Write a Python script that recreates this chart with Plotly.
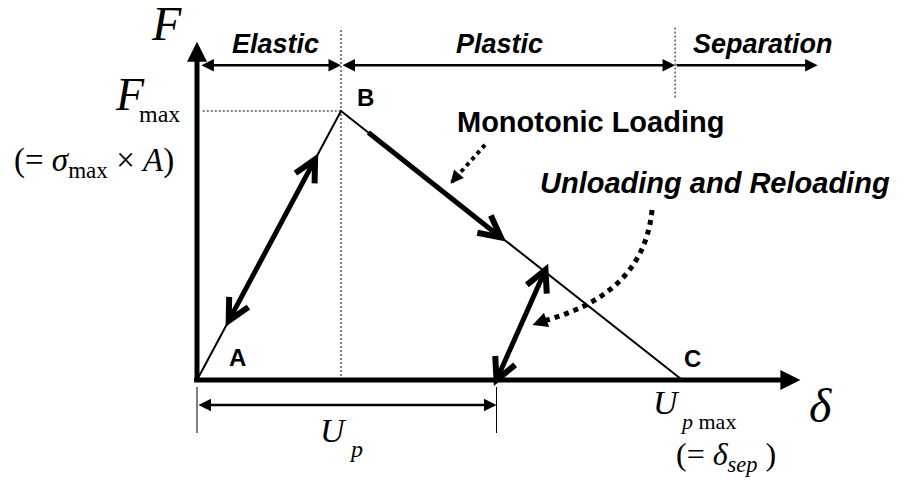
import numpy as np
import plotly.graph_objects as go

# cohesive law sketch: delta in units of the elastic limit, F in units of F_max
node_labels = ["A", "B", "C"]
node_delta = [0.0, 1.0, 3.37]
node_force = [0.0, 1.0, 0.0]

zone_names = ["Elastic", "Plastic", "Separation"]
zone_edges = [0.02, 1.0, 3.32, 4.31]
zone_level = 1.17
zone_line_top = 1.31
sep_line_bottom = 1.05

U_p = 2.08
U_p_level = -0.093
U_p_tick = [-0.026, -0.197]

axis_tip_delta = 4.19
axis_tip_force = 1.257

elastic_arrow_delta = [0.22, 0.82]
elastic_arrow_force = [0.22, 0.82]
mono_arrow_delta = [1.19, 2.11]
mono_arrow_force = [0.92, 0.53]
reload_arrow_delta = [2.08, 2.42]
reload_arrow_force = [0.0, 0.41]

mono_pointer_delta = [2.0, 1.77]
mono_pointer_force = [0.874, 0.736]
reload_pointer_delta = [3.16, 3.11, 2.73, 2.40, 2.33]
reload_pointer_force = [0.632, 0.364, 0.268, 0.218, 0.204]

# figure frame (pixels); the page adds an 8px body margin
PAGE = 8
W, H = 905 - 2 * PAGE, 491 - 2 * PAGE
ORIGIN = (197 - PAGE, 380 - PAGE)
PX_DELTA, PX_FORCE = 144, 269

SANS = "Liberation Sans"
SERIF = "Liberation Serif"

fig = go.Figure()

# thin A-B-C law
fig.add_trace(go.Scatter(x=node_delta, y=node_force, mode="lines",
                         line=dict(color="black", width=2), hoverinfo="skip"))


def arrow(x0, y0, x1, y1, width, head, size, both=False):
    fig.add_annotation(x=x1, y=y1, ax=x0, ay=y0, xref="x", yref="y", axref="x", ayref="y",
                       text="", showarrow=True, arrowcolor="black", arrowwidth=width,
                       arrowhead=head, arrowsize=size,
                       arrowside="end+start" if both else "end",
                       startarrowhead=head, startarrowsize=size, standoff=0, startstandoff=0)


def vline(x, y0, y1, dash="2px,2px", width=1):
    fig.add_shape(type="line", x0=x, x1=x, y0=y0, y1=y1, xref="x", yref="y",
                  line=dict(color="black", width=width, dash=dash))


def chevron(tip_d, tip_f, tail_d, tail_f, length=24, half=27, width=6):
    # open V head drawn in screen pixels, then mapped back to data units
    u = np.array([(tail_d - tip_d) * PX_DELTA, -(tail_f - tip_f) * PX_FORCE])
    u = u / np.linalg.norm(u)
    pts = []
    for s in (1, -1):
        a = np.radians(half * s)
        r = np.array([u[0] * np.cos(a) - u[1] * np.sin(a), u[0] * np.sin(a) + u[1] * np.cos(a)])
        pts.append((tip_d + length * r[0] / PX_DELTA, tip_f - length * r[1] / PX_FORCE))
    path = f"M {pts[0][0]},{pts[0][1]} L {tip_d},{tip_f} L {pts[1][0]},{pts[1][1]}"
    fig.add_shape(type="path", path=path, xref="x", yref="y",
                  line=dict(color="black", width=width))


def thick_arrow(ds, fs, both=False):
    fig.add_shape(type="line", x0=ds[0], y0=fs[0], x1=ds[1], y1=fs[1], xref="x", yref="y",
                  line=dict(color="black", width=5))
    chevron(ds[1], fs[1], ds[0], fs[0])
    if both:
        chevron(ds[0], fs[0], ds[1], fs[1])


# main axes
arrow(-0.03, 0, axis_tip_delta, 0, 5, 2, 0.8)
arrow(0, -0.012, 0, axis_tip_force, 5, 2, 0.8)

# dotted guides
vline(node_delta[1], 0, zone_line_top)
vline(zone_edges[2], sep_line_bottom, zone_line_top)
fig.add_shape(type="line", x0=0.04, x1=node_delta[1], y0=node_force[1], y1=node_force[1],
              xref="x", yref="y", line=dict(color="black", width=1, dash="2px,2px"))

# zone dimension arrows
arrow(zone_edges[0], zone_level, zone_edges[1], zone_level, 2.5, 2, 1, both=True)
arrow(zone_edges[1], zone_level, zone_edges[2], zone_level, 2.5, 2, 1, both=True)
arrow(zone_edges[2], zone_level, zone_edges[3], zone_level, 2.5, 2, 1)

# U_p dimension
vline(0, U_p_tick[0], U_p_tick[1], dash="solid")
vline(U_p, U_p_tick[0], U_p_tick[1], dash="solid")
arrow(0, U_p_level, U_p, U_p_level, 2.5, 2, 1, both=True)

# thick loading arrows
thick_arrow(elastic_arrow_delta, elastic_arrow_force, both=True)
thick_arrow(mono_arrow_delta, mono_arrow_force)
thick_arrow(reload_arrow_delta, reload_arrow_force, both=True)

# dotted pointers
fig.add_shape(type="line", x0=mono_pointer_delta[0], y0=mono_pointer_force[0],
              x1=mono_pointer_delta[1], y1=mono_pointer_force[1], xref="x", yref="y",
              line=dict(color="black", width=4, dash="dot"))
arrow(mono_pointer_delta[1] + 0.04, mono_pointer_force[1] + 0.025,
      mono_pointer_delta[1] - 0.01, mono_pointer_force[1] - 0.006, 2, 2, 1.3)

d, f = reload_pointer_delta, reload_pointer_force
path = f"M {d[0]},{f[0]} C {d[1]},{f[1]} {d[2]},{f[2]} {d[3]},{f[3]}"
fig.add_shape(type="path", path=path, xref="x", yref="y",
              line=dict(color="black", width=5, dash="dot"))
arrow(d[3], f[3], d[4], f[4], 2, 2, 1.5)


def label(text, px, py, size, family=SANS):
    fig.add_annotation(x=(px - PAGE) / W, y=1 - (py - PAGE) / H, xref="paper", yref="paper",
                       text=text, showarrow=False, xanchor="center", yanchor="middle",
                       font=dict(family=family, size=size, color="black"))


for name, px in zip(zone_names, [275, 500, 763]):
    label(f"<b><i>{name}</i></b>", px, 44, 27)

label_pos = {"A": (237, 357), "B": (365, 97), "C": (692, 358)}
for name in node_labels:
    label(f"<b>{name}</b>", *label_pos[name], 24)

label("<b>Monotonic Loading</b>", 590, 122, 29)
label("<b><i>Unloading and Reloading</i></b>", 715, 183, 29)

label("<i>F</i>", 166, 24, 48, SERIF)
label("<i>F</i>", 130, 94, 46, SERIF)
label("max", 159, 114, 24, SERIF)
label("(= <i>σ</i><sub>max</sub> × <i>A</i>)", 94, 162, 33, SERIF)

label("<i>δ</i>", 820, 405, 48, SERIF)
label("<i>U</i>", 666, 402, 34, SERIF)
label("<i>p</i> max", 708, 421, 22, SERIF)
label("(= <i>δ</i><sub><i>sep</i></sub> )", 726, 456, 32, SERIF)
label("<i>U</i>", 333, 430, 34, SERIF)
label("<i>p</i>", 356, 449, 24, SERIF)

fig.update_xaxes(visible=False, range=[-ORIGIN[0] / PX_DELTA, (W - ORIGIN[0]) / PX_DELTA])
fig.update_yaxes(visible=False, range=[-(H - ORIGIN[1]) / PX_FORCE, ORIGIN[1] / PX_FORCE])
fig.update_layout(width=W, height=H, margin=dict(l=0, r=0, t=0, b=0),
                  plot_bgcolor="white", paper_bgcolor="white", showlegend=False)

fig.write_html("out.html")
